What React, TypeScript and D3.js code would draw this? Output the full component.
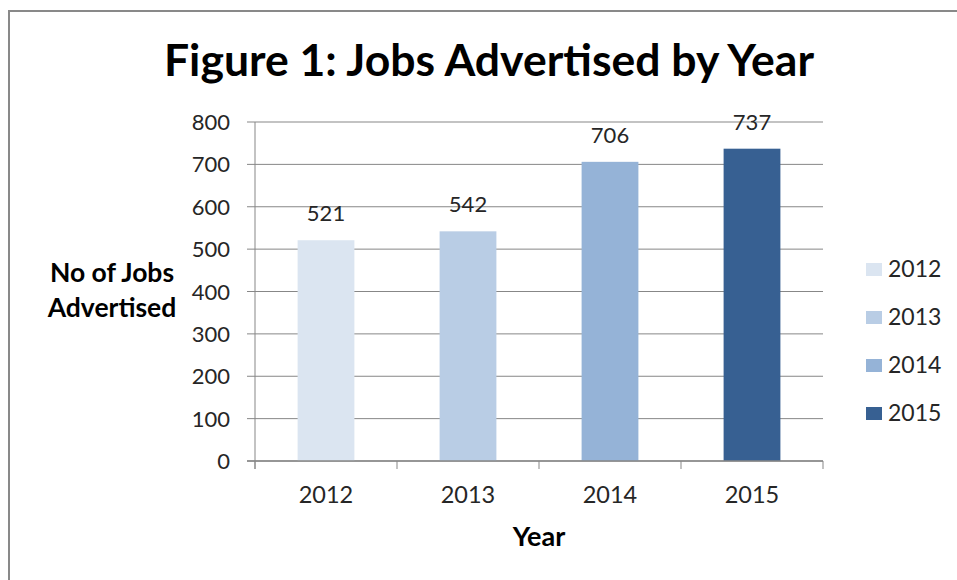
import * as d3 from "d3";

const years = ["2012", "2013", "2014", "2015"];
const jobs = [521, 542, 706, 737];
const yTicks = [0, 100, 200, 300, 400, 500, 600, 700, 800];
const barColors = ["#dbe5f1", "#b9cde5", "#95b3d7", "#376092"];

const FONT = "Lato, 'Open Sans', sans-serif";
const INK = "#262626";
const LINE = "#878787";

export default function App() {
  const width = 957;
  const height = 580;
  const plotLeft = 255;
  const plotRight = 823;
  const plotTop = 122;
  const plotBottom = 461;

  const x = d3
    .scaleBand<string>()
    .domain(years)
    .range([plotLeft, plotRight])
    .paddingInner(0.6)
    .paddingOuter(0.3);

  const y = d3.scaleLinear().domain([0, 800]).range([plotBottom, plotTop]);

  const step = (plotRight - plotLeft) / years.length;
  const catEdges = d3.range(years.length + 1).map((i) => plotLeft + i * step);

  const color = d3.scaleOrdinal<string, string>().domain(years).range(barColors);

  return (
    <svg
      width={width}
      height={height}
      style={{ position: "absolute", left: 0, top: 0, display: "block", fontFamily: FONT }}
    >
      <rect x={0} y={0} width={width} height={height} fill="#ffffff" />
      <rect x={9} y={11} width={width + 20} height={height + 20} fill="none" stroke="#898989" strokeWidth={2} />

      <text x={489} y={76} textAnchor="middle" fontSize={44.5} fontWeight={700} fill="#000">
        Figure 1: Jobs Advertised by Year
      </text>

      {/* gridlines + y ticks */}
      {yTicks.map((t) => (
        <g key={t}>
          <line x1={plotLeft - 8} x2={plotRight} y1={y(t)} y2={y(t)} stroke={LINE} strokeWidth={1} />
          <text x={230} y={y(t) + 8} textAnchor="end" fontSize={22} fill={INK}>
            {t}
          </text>
        </g>
      ))}

      {/* bars */}
      {years.map((yr, i) => (
        <rect
          key={yr}
          x={x(yr) ?? 0}
          y={y(jobs[i])}
          width={x.bandwidth()}
          height={y(0) - y(jobs[i])}
          fill={color(yr)}
        />
      ))}

      {/* axes */}
      <line x1={plotLeft} x2={plotLeft} y1={plotTop} y2={plotBottom + 8} stroke={LINE} strokeWidth={1} />
      <line x1={plotLeft - 8} x2={plotRight} y1={plotBottom} y2={plotBottom} stroke={LINE} strokeWidth={1.5} />
      {catEdges.map((cx) => (
        <line key={cx} x1={cx} x2={cx} y1={plotBottom} y2={plotBottom + 8} stroke={LINE} strokeWidth={1} />
      ))}

      {/* data labels */}
      {years.map((yr, i) => (
        <text
          key={yr}
          x={(x(yr) ?? 0) + x.bandwidth() / 2}
          y={y(jobs[i]) - 19}
          textAnchor="middle"
          fontSize={22}
          fill={INK}
        >
          {jobs[i]}
        </text>
      ))}

      {/* x tick labels */}
      {years.map((yr) => (
        <text key={yr} x={(x(yr) ?? 0) + x.bandwidth() / 2} y={503} textAnchor="middle" fontSize={23.5} fill={INK}>
          {yr}
        </text>
      ))}

      <text x={539} y={546} textAnchor="middle" fontSize={27} fontWeight={700} fill="#000">
        Year
      </text>
      <text textAnchor="middle" fontSize={26.5} fontWeight={700} fill="#000">
        <tspan x={112} y={282}>No of Jobs</tspan>
        <tspan x={112} y={317}>Advertised</tspan>
      </text>

      {/* legend */}
      {years.map((yr, i) => (
        <g key={yr} transform={`translate(866, ${277 + i * 48})`}>
          <rect x={0} y={-14} width={16} height={13} fill={color(yr)} />
          <text x={22} y={0} fontSize={23} fill={INK}>
            {yr}
          </text>
        </g>
      ))}
    </svg>
  );
}
